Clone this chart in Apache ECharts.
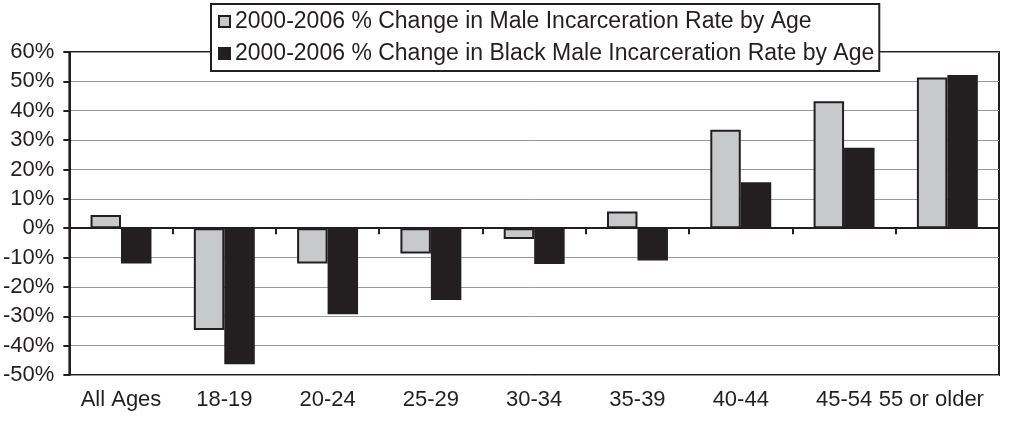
<!DOCTYPE html>
<html><head><meta charset="utf-8">
<script src="https://cdn.jsdelivr.net/npm/echarts@6/dist/echarts.min.js"></script>
<style>html,body{margin:0;padding:0;background:#fff}#c{width:1024px;height:423px}</style>
</head><body><div id="c"></div>
<script>
const categories = ['All Ages','18-19','20-24','25-29','30-34','35-39','40-44','45-54','55 or older'];
const maleValues = [4.5, -34.7, -12, -8.6, -3.7, 5.7, 33.5, 43.2, 51.3];
const blackMaleValues = [-12, -46.3, -29.3, -24.5, -12.2, -11, 15.6, 27.4, 52.2];
const seriesNames = ['2000-2006 % Change in Male Incarceration Rate by Age','2000-2006 % Change in Black Male Incarceration Rate by Age'];

const ink = '#231f20';
const font = 'Liberation Sans, Arial, sans-serif';
const labelData = categories.map((c, i) => i === categories.length - 1
  ? {value: c, textStyle: {padding: [0, 32, 0, 0]}} : c);
const chart = echarts.init(document.getElementById('c'));
chart.setOption({
  animation: false,
  backgroundColor: '#fff',
  grid: {left: 69, right: 25, top: 52, bottom: 48, show: true, borderColor: ink, borderWidth: 2, backgroundColor: 'transparent'},
  legend: {
    orient: 'vertical', left: 211, top: 4, padding: [6, 5, 6, 7],
    backgroundColor: '#fff', borderColor: ink, borderWidth: 2,
    itemWidth: 11, itemHeight: 11, itemGap: 9,
    textStyle: {fontFamily: font, fontSize: 23, color: ink, padding: [0, 0, 0, 0]},
    data: seriesNames.map(n => ({name: n, icon: 'rect'}))
  },
  xAxis: [
    {type: 'category', data: labelData, position: 'bottom',
     axisLine: {show: false, onZero: false}, axisTick: {show: false}, splitLine: {show: false},
     axisLabel: {interval: 0, fontFamily: font, fontSize: 22, color: ink, margin: 14}},
    {type: 'category', data: categories, position: 'bottom',
     axisLine: {show: true, onZero: true, lineStyle: {color: ink, width: 2}},
     axisTick: {show: true, inside: false, length: 6, interval: 0, lineStyle: {color: ink, width: 2}},
     axisLabel: {show: false}, splitLine: {show: false}}
  ],
  yAxis: {
    type: 'value', min: -50, max: 60, interval: 10,
    axisLine: {show: true, lineStyle: {color: ink, width: 2}},
    axisTick: {show: true, length: 6, lineStyle: {color: ink, width: 2}},
    axisLabel: {formatter: '{value}%', fontFamily: font, fontSize: 22, color: ink, margin: 15},
    splitLine: {show: true, lineStyle: {color: '#9a9a9a', width: 1}}
  },
  series: [
    {name: seriesNames[0], type: 'bar', xAxisIndex: 0, data: maleValues,
     barGap: '0%', barCategoryGap: '41%',
     itemStyle: {color: '#c8c9cb', borderColor: ink, borderWidth: 2}},
    {name: seriesNames[1], type: 'bar', xAxisIndex: 0, data: blackMaleValues,
     barGap: '0%', barCategoryGap: '41%',
     itemStyle: {color: ink, borderColor: ink, borderWidth: 2}}
  ]
});
</script></body></html>
